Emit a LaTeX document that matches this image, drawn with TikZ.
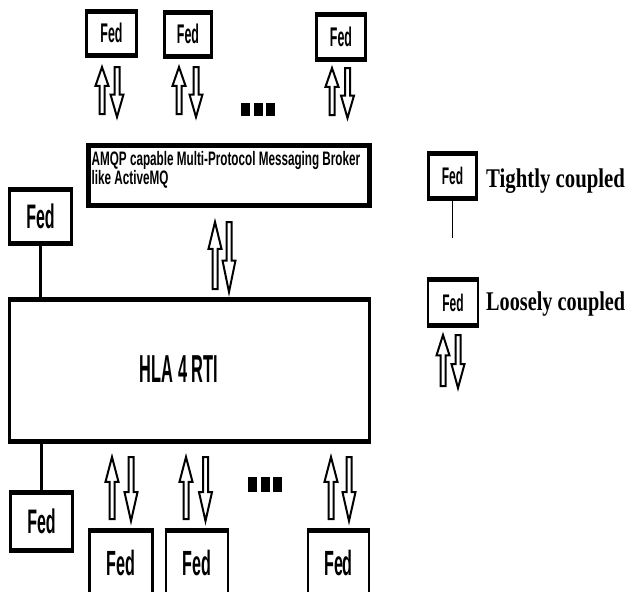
\documentclass[tikz,border=0pt]{standalone}
\usepackage{fontspec}
\setmainfont{Liberation Sans}
\newfontfamily\legfont{Liberation Serif}
\usepackage{graphicx}

\newcommand\fedt[2]{{\fontsize{#1}{#1}\selectfont\bfseries\scalebox{#2}[1]{Fed}}}
% block arrows: centre x, top y, bottom y
\newcommand\UpArr[3]{%
  \pgfmathsetmacro\hl{0.40*(#3-#2)}%
  \draw[blockarrow] (#1,#2) -- (#1+6.5,#2+\hl) -- (#1+2.5,#2+\hl) -- (#1+2.5,#3)
     -- (#1-2.5,#3) -- (#1-2.5,#2+\hl) -- (#1-6.5,#2+\hl) -- cycle;}
\newcommand\DownArr[3]{%
  \pgfmathsetmacro\hl{0.45*(#3-#2)}%
  \draw[blockarrow] (#1,#3) -- (#1+6.5,#3-\hl) -- (#1+2.5,#3-\hl) -- (#1+2.5,#2)
     -- (#1-2.5,#2) -- (#1-2.5,#3-\hl) -- (#1-6.5,#3-\hl) -- cycle;}
\newcommand\Dots[3]{% left x, top y, bottom y
  \foreach \i in {0,1,2} {\fill (#1+\i*12.5,#2) rectangle (#1+\i*12.5+9,#3);}}

\begin{document}
\begin{tikzpicture}[x=1pt,y=-1pt,
  fedbox/.style={draw, line width=2.6pt, inner sep=0pt, outer sep=0pt, fill=white},
  thickedge/.style={line width=5pt, shorten <=-1.3pt, shorten >=-1.3pt},
  blockarrow/.style={draw, line width=2pt, fill=white, line join=miter},
  link/.style={line width=2.4pt}]
\useasboundingbox[fill=white] (0,0) rectangle (633,592);

% top federates
\node[fedbox, minimum width=50, minimum height=44] (T1) at (111.5,33) {\fedt{27}{0.46}};
\node[fedbox, minimum width=47, minimum height=44] (T2) at (188,34) {\fedt{27}{0.46}};
\node[fedbox, minimum width=49, minimum height=45] (T3) at (341,36.5) {\fedt{27}{0.46}};

% broker
\node[draw, line width=4.5pt, inner sep=0pt, outer sep=0pt, minimum width=281, minimum height=60] (BR) at (229,175.5) {};
\node[anchor=north west, inner sep=0pt, align=left, font=\bfseries\fontsize{19.5}{19.5}\selectfont] (BRT) at (91.5,151)
  {\scalebox{0.6}[1]{AMQP capable Multi-Protocol Messaging Broker}\\\scalebox{0.6}[1]{like ActiveMQ}};

% HLA RTI
\node[fedbox, minimum width=360, minimum height=142] (HLA) at (189.5,370) {};
\node[font=\bfseries\fontsize{39}{39}\selectfont, inner sep=0pt] (HLAT) at (179,369) {\scalebox{0.42}[1]{HLA 4 RTI}};

% tightly coupled federates
\node[fedbox, minimum width=62, minimum height=54] (LF) at (40.5,216) {\fedt{34}{0.47}};
\node[fedbox, minimum width=62, minimum height=58] (BL) at (41.5,521) {\fedt{34}{0.47}};
\draw[link] (LF.south) -- (LF.south |- HLA.north);
\draw[link] (BL.north) -- (BL.north |- HLA.south);

% bottom loosely coupled federates
\node[fedbox, minimum width=63, minimum height=70] (B1) at (121,565) {\raisebox{5pt}{\fedt{35}{0.46}}};
\node[fedbox, minimum width=62, minimum height=70] (B2) at (197,565) {\raisebox{5pt}{\fedt{35}{0.46}}};
\node[fedbox, minimum width=61, minimum height=70] (B3) at (338.5,565) {\raisebox{5pt}{\fedt{35}{0.46}}};

% legend
\node[fedbox, minimum width=48, minimum height=45] (LT) at (452.5,176) {\fedt{24}{0.5}};
\node[fedbox, minimum width=50, minimum height=46] (LL) at (453,302.5) {\fedt{24}{0.5}};
\coordinate (LTend) at (452.5,238);
\draw[link, line width=1.8pt] (LT.south) -- (LTend);
\node[anchor=base west, inner sep=0pt, font=\legfont\bfseries\fontsize{27}{27}\selectfont] (LTT) at (486,187)
  {\scalebox{0.77}[1]{Tightly coupled}};
\node[anchor=base west, inner sep=0pt, font=\legfont\bfseries\fontsize{27}{27}\selectfont] (LLT) at (486,310)
  {\scalebox{0.75}[1]{Loosely coupled}};

% thick top/bottom edges
\foreach \n in {T1,T2,T3,LF,BL,B1,B2,B3,LT,LL,HLA} {
  \draw[thickedge] (\n.north west) -- (\n.north east);
  \draw[thickedge] (\n.south west) -- (\n.south east);
}

% block arrows
\UpArr{102}{67}{114}   \DownArr{117}{67}{117}
\UpArr{179}{67}{114}   \DownArr{196}{67}{117}
\UpArr{332}{68}{115}   \DownArr{347.5}{68}{118}
\UpArr{215}{222}{289}  \DownArr{229}{222}{292}
\UpArr{112}{457}{519}  \DownArr{131}{457}{521}
\UpArr{186}{457}{519}  \DownArr{205.5}{457}{521}
\UpArr{331}{457}{519}  \DownArr{349}{457}{521}
\UpArr{443}{335}{386}  \DownArr{458}{335}{388}

% ellipses
\Dots{241}{103}{116}
\Dots{248}{477}{492}
\end{tikzpicture}
\end{document}
